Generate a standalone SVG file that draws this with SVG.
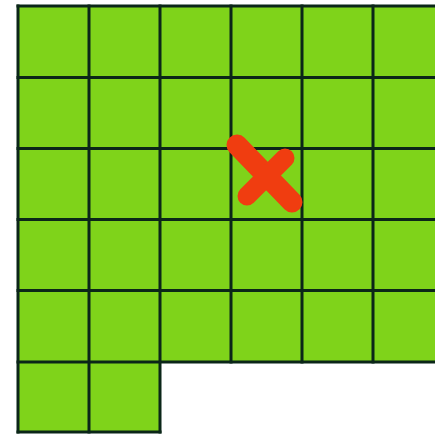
<svg xmlns="http://www.w3.org/2000/svg" width="435" height="434" viewBox="0 0 435 434">
<style>
.cell{fill:#7fd31a;}
.grid{stroke:#0b2618;stroke-width:3;fill:none;stroke-linecap:square;}
.mark{stroke:#f03d10;stroke-linecap:round;fill:none;}
</style>
<rect width="435" height="434" fill="#ffffff"/>
<g id="field">
<rect class="cell" x="18" y="6" width="420" height="356"/>
<rect class="cell" x="18" y="362" width="142" height="71"/>
</g>
<g id="gridlines" class="grid">
<path d="M18 6H438M18 77.5H438M18 148.5H438M18 219.5H438M18 290.5H438M18 362H438M18 432H160"/>
<path d="M18 6V432M89 6V432M160 6V432M231 6V362M302 6V362M373 6V362"/>
</g>
<g id="cross">
<line class="mark" x1="237" y1="145" x2="292" y2="202" stroke-width="21"/>
<line class="mark" x1="285" y1="158" x2="247" y2="196" stroke-width="19"/>
</g>
</svg>
